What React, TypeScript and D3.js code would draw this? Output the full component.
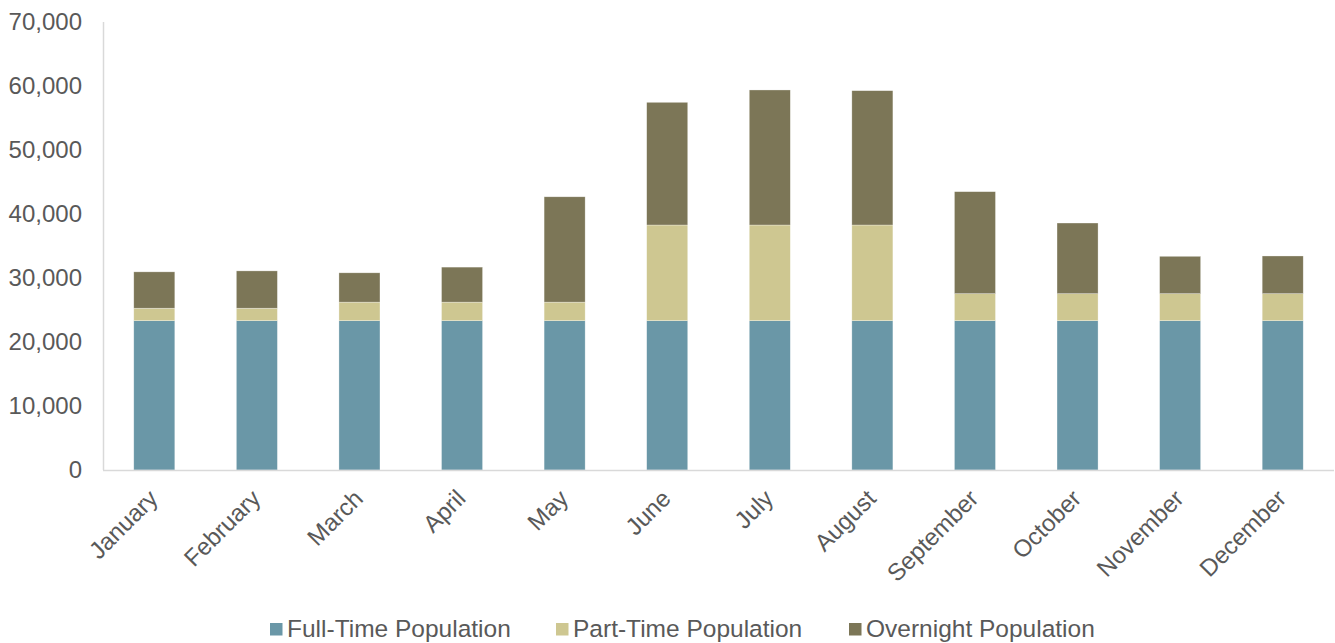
import React from "react";
import * as d3 from "d3";

const months = ["January","February","March","April","May","June","July","August","September","October","November","December"];
const fullTime = [23330,23330,23330,23330,23330,23330,23330,23330,23330,23330,23330,23330];
const partTime = [1950,1950,2900,2900,2900,14950,14950,14950,4220,4220,4220,4220];
const overnight = [5680,5830,4580,5470,16460,19170,21100,20990,15940,11040,5840,5890];
const yTicks = [0,10000,20000,30000,40000,50000,60000,70000];
const seriesNames = ["Full-Time Population","Part-Time Population","Overnight Population"];
const colors = ["#6A97A7","#CEC791","#7C7657"];

const W = 1335, H = 643;
const left = 103, right = 1334, top = 22, bottom = 470;
const font = "'Liberation Sans', Arial, sans-serif";

export default function App() {
  const x = d3.scaleBand<string>().domain(months).range([left, right]).paddingInner(0.6).paddingOuter(0.3);
  const y = d3.scaleLinear().domain([0, 70000]).range([bottom, top]);
  const rows = months.map((m, i) => ({ month: m, full: fullTime[i], part: partTime[i], over: overnight[i] }));
  const stack = d3.stack<any>().keys(["full", "part", "over"])(rows);
  const fmt = d3.format(",");
  const legendX = [270, 556, 849];

  return (
    <svg width={W} height={H} style={{ position: "absolute", left: 0, top: 0, display: "block" }} fontFamily={font}>
      <rect width={W} height={H} fill="#fff" />
      {stack.map((layer, si) => (
        <g key={si} fill={colors[si]}>
          {layer.map((d, i) => (
            <rect key={i} x={x(months[i])} y={y(d[1])} width={x.bandwidth()} height={y(d[0]) - y(d[1])}
              stroke="#ffffff" strokeOpacity={0.5} strokeWidth={0.6} />
          ))}
        </g>
      ))}
      <line x1={left + 0.5} x2={left + 0.5} y1={top} y2={bottom} stroke="#D9D9D9" strokeWidth={1.5} />
      <line x1={left} x2={right} y1={bottom + 0.5} y2={bottom + 0.5} stroke="#D9D9D9" strokeWidth={1.5} />
      {yTicks.map((t) => (
        <text key={t} x={82} y={y(t)} dy="0.35em" textAnchor="end" fontSize={24} fill="#595959">{fmt(t)}</text>
      ))}
      {months.map((m) => {
        const cx = (x(m) as number) + x.bandwidth() / 2;
        return (
          <text key={m} transform={`translate(${cx + 5},${500}) rotate(-45)`} textAnchor="end" fontSize={24} fill="#595959">{m}</text>
        );
      })}
      {seriesNames.map((n, i) => (
        <g key={n}>
          <rect x={legendX[i]} y={623} width={12.5} height={12.5} fill={colors[i]} />
          <text x={legendX[i] + 17} y={637} fontSize={24.5} fill="#595959">{n}</text>
        </g>
      ))}
    </svg>
  );
}
